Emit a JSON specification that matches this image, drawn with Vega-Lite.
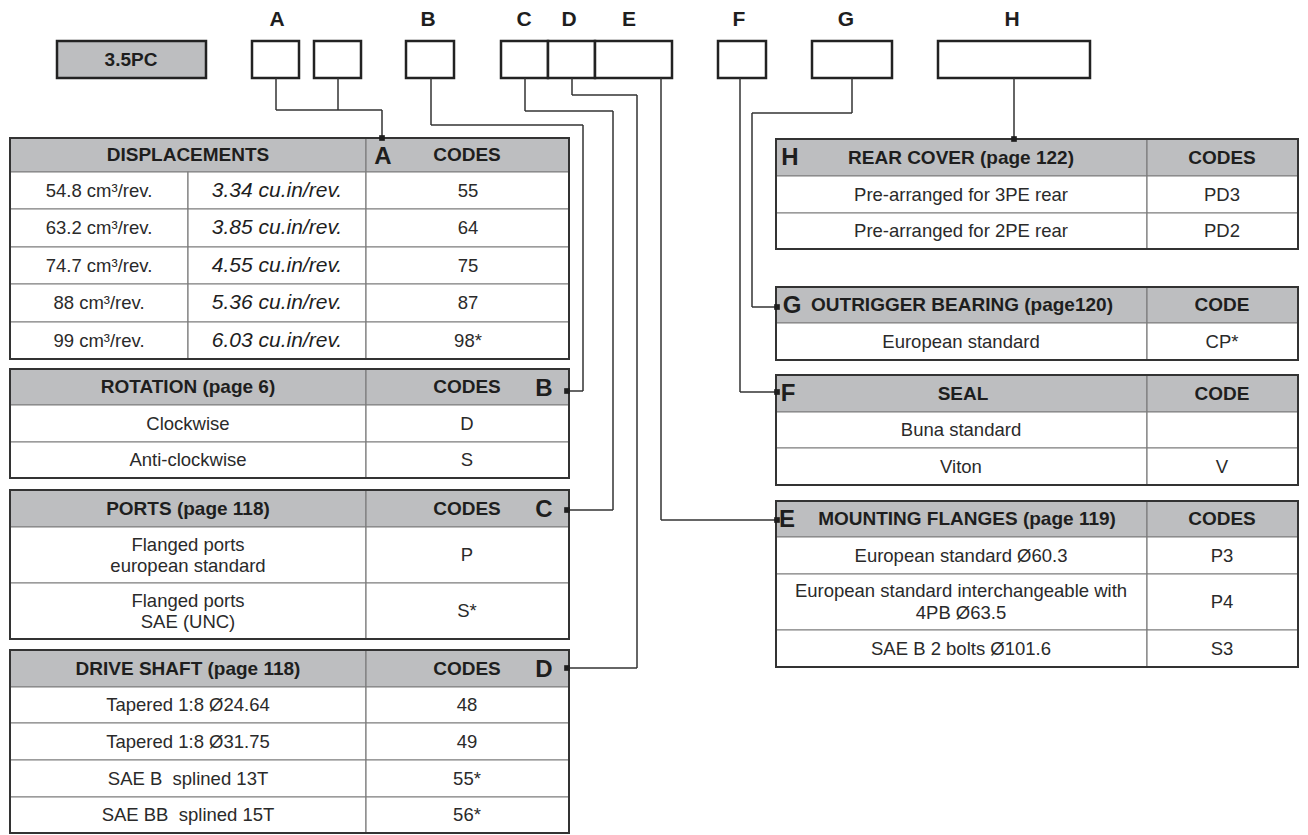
{
  "$schema": "https://vega.github.io/schema/vega-lite/v6.json",
  "width": 1308,
  "height": 835,
  "padding": 0,
  "autosize": {"type": "none"},
  "background": "#ffffff",
  "config": {"view": {"stroke": null}},
  "datasets": {
    "cells": [
      {"x":10,"x2":366,"y":138,"y2":172,"k":"h"},{"x":366,"x2":569,"y":138,"y2":172,"k":"h"},
      {"x":10,"x2":188,"y":172,"y2":209,"k":"c"},{"x":188,"x2":366,"y":172,"y2":209,"k":"c"},{"x":366,"x2":569,"y":172,"y2":209,"k":"c"},
      {"x":10,"x2":188,"y":209,"y2":247,"k":"c"},{"x":188,"x2":366,"y":209,"y2":247,"k":"c"},{"x":366,"x2":569,"y":209,"y2":247,"k":"c"},
      {"x":10,"x2":188,"y":247,"y2":284,"k":"c"},{"x":188,"x2":366,"y":247,"y2":284,"k":"c"},{"x":366,"x2":569,"y":247,"y2":284,"k":"c"},
      {"x":10,"x2":188,"y":284,"y2":322,"k":"c"},{"x":188,"x2":366,"y":284,"y2":322,"k":"c"},{"x":366,"x2":569,"y":284,"y2":322,"k":"c"},
      {"x":10,"x2":188,"y":322,"y2":359,"k":"c"},{"x":188,"x2":366,"y":322,"y2":359,"k":"c"},{"x":366,"x2":569,"y":322,"y2":359,"k":"c"},
      {"x":10,"x2":366,"y":369,"y2":405,"k":"h"},{"x":366,"x2":569,"y":369,"y2":405,"k":"h"},
      {"x":10,"x2":366,"y":405,"y2":442,"k":"c"},{"x":366,"x2":569,"y":405,"y2":442,"k":"c"},
      {"x":10,"x2":366,"y":442,"y2":478,"k":"c"},{"x":366,"x2":569,"y":442,"y2":478,"k":"c"},
      {"x":10,"x2":366,"y":490,"y2":527,"k":"h"},{"x":366,"x2":569,"y":490,"y2":527,"k":"h"},
      {"x":10,"x2":366,"y":527,"y2":583,"k":"c"},{"x":366,"x2":569,"y":527,"y2":583,"k":"c"},
      {"x":10,"x2":366,"y":583,"y2":639,"k":"c"},{"x":366,"x2":569,"y":583,"y2":639,"k":"c"},
      {"x":10,"x2":366,"y":650,"y2":687,"k":"h"},{"x":366,"x2":569,"y":650,"y2":687,"k":"h"},
      {"x":10,"x2":366,"y":687,"y2":723,"k":"c"},{"x":366,"x2":569,"y":687,"y2":723,"k":"c"},
      {"x":10,"x2":366,"y":723,"y2":760,"k":"c"},{"x":366,"x2":569,"y":723,"y2":760,"k":"c"},
      {"x":10,"x2":366,"y":760,"y2":797,"k":"c"},{"x":366,"x2":569,"y":760,"y2":797,"k":"c"},
      {"x":10,"x2":366,"y":797,"y2":833,"k":"c"},{"x":366,"x2":569,"y":797,"y2":833,"k":"c"},
      {"x":776,"x2":1147,"y":139,"y2":176,"k":"h"},{"x":1147,"x2":1298,"y":139,"y2":176,"k":"h"},
      {"x":776,"x2":1147,"y":176,"y2":213,"k":"c"},{"x":1147,"x2":1298,"y":176,"y2":213,"k":"c"},
      {"x":776,"x2":1147,"y":213,"y2":249,"k":"c"},{"x":1147,"x2":1298,"y":213,"y2":249,"k":"c"},
      {"x":776,"x2":1147,"y":287,"y2":323,"k":"h"},{"x":1147,"x2":1298,"y":287,"y2":323,"k":"h"},
      {"x":776,"x2":1147,"y":323,"y2":360,"k":"c"},{"x":1147,"x2":1298,"y":323,"y2":360,"k":"c"},
      {"x":776,"x2":1147,"y":375,"y2":412,"k":"h"},{"x":1147,"x2":1298,"y":375,"y2":412,"k":"h"},
      {"x":776,"x2":1147,"y":412,"y2":448,"k":"c"},{"x":1147,"x2":1298,"y":412,"y2":448,"k":"c"},
      {"x":776,"x2":1147,"y":448,"y2":485,"k":"c"},{"x":1147,"x2":1298,"y":448,"y2":485,"k":"c"},
      {"x":776,"x2":1147,"y":501,"y2":537,"k":"h"},{"x":1147,"x2":1298,"y":501,"y2":537,"k":"h"},
      {"x":776,"x2":1147,"y":537,"y2":574,"k":"c"},{"x":1147,"x2":1298,"y":537,"y2":574,"k":"c"},
      {"x":776,"x2":1147,"y":574,"y2":630,"k":"c"},{"x":1147,"x2":1298,"y":574,"y2":630,"k":"c"},
      {"x":776,"x2":1147,"y":630,"y2":667,"k":"c"},{"x":1147,"x2":1298,"y":630,"y2":667,"k":"c"}
    ],
    "frames": [
      {"x":10,"x2":569,"y":138,"y2":359},{"x":10,"x2":569,"y":369,"y2":478},
      {"x":10,"x2":569,"y":490,"y2":639},{"x":10,"x2":569,"y":650,"y2":833},
      {"x":776,"x2":1298,"y":139,"y2":249},{"x":776,"x2":1298,"y":287,"y2":360},
      {"x":776,"x2":1298,"y":375,"y2":485},{"x":776,"x2":1298,"y":501,"y2":667}
    ],
    "boxes": [
      {"x":57,"x2":206,"y":41,"y2":78,"k":"g"},
      {"x":252,"x2":299,"y":41,"y2":78,"k":"w"},{"x":314,"x2":361,"y":41,"y2":78,"k":"w"},
      {"x":406,"x2":454,"y":41,"y2":78,"k":"w"},
      {"x":501,"x2":548,"y":41,"y2":78,"k":"w"},{"x":548,"x2":595,"y":41,"y2":78,"k":"w"},{"x":595,"x2":672,"y":41,"y2":78,"k":"w"},
      {"x":718,"x2":766,"y":41,"y2":78,"k":"w"},{"x":812,"x2":892,"y":41,"y2":78,"k":"w"},{"x":938,"x2":1090,"y":41,"y2":78,"k":"w"}
    ],
    "links": [
      {"x":276,"y":78,"x2":276,"y2":110},{"x":338,"y":78,"x2":338,"y2":110},{"x":276,"y":110,"x2":382,"y2":110},{"x":382,"y":110,"x2":382,"y2":138},
      {"x":431,"y":78,"x2":431,"y2":125},{"x":431,"y":125,"x2":583,"y2":125},{"x":583,"y":125,"x2":583,"y2":391},{"x":583,"y":391,"x2":569,"y2":391},
      {"x":525,"y":78,"x2":525,"y2":111},{"x":525,"y":111,"x2":613,"y2":111},{"x":613,"y":111,"x2":613,"y2":510},{"x":613,"y":510,"x2":569,"y2":510},
      {"x":572,"y":78,"x2":572,"y2":95},{"x":572,"y":95,"x2":637,"y2":95},{"x":637,"y":95,"x2":637,"y2":668},{"x":637,"y":668,"x2":569,"y2":668},
      {"x":661,"y":78,"x2":661,"y2":520},{"x":661,"y":520,"x2":776,"y2":520},
      {"x":740,"y":78,"x2":740,"y2":392},{"x":740,"y":392,"x2":776,"y2":392},
      {"x":852,"y":78,"x2":852,"y2":113},{"x":852,"y":113,"x2":752,"y2":113},{"x":752,"y":113,"x2":752,"y2":307},{"x":752,"y":307,"x2":776,"y2":307},
      {"x":1014,"y":78,"x2":1014,"y2":139}
    ],
    "dots": [
      {"x":382,"y":138},{"x":567,"y":391},{"x":567,"y":510},{"x":567,"y":668},
      {"x":777,"y":520},{"x":777,"y":392},{"x":777,"y":307},{"x":1014,"y":139}
    ],
    "texts": [
      {"x":277,"y":20,"t":"A","k":"T"},{"x":428,"y":20,"t":"B","k":"T"},{"x":524,"y":20,"t":"C","k":"T"},{"x":569,"y":20,"t":"D","k":"T"},
      {"x":629,"y":20,"t":"E","k":"T"},{"x":739,"y":20,"t":"F","k":"T"},{"x":846,"y":20,"t":"G","k":"T"},{"x":1012,"y":20,"t":"H","k":"T"},
      {"x":131,"y":60,"t":"3.5PC","k":"P"},
      {"x":188,"y":155,"t":"DISPLACEMENTS","k":"hb"},{"x":383,"y":157,"t":"A","k":"L"},{"x":467,"y":155,"t":"CODES","k":"hb"},
      {"x":99,"y":190.5,"t":"54.8 cm³/rev.","k":"b"},{"x":277,"y":190.5,"t":"3.34 cu.in/rev.","k":"i"},{"x":468,"y":190.5,"t":"55","k":"b"},
      {"x":99,"y":228,"t":"63.2 cm³/rev.","k":"b"},{"x":277,"y":228,"t":"3.85 cu.in/rev.","k":"i"},{"x":468,"y":228,"t":"64","k":"b"},
      {"x":99,"y":265.5,"t":"74.7 cm³/rev.","k":"b"},{"x":277,"y":265.5,"t":"4.55 cu.in/rev.","k":"i"},{"x":468,"y":265.5,"t":"75","k":"b"},
      {"x":99,"y":303,"t":"88 cm³/rev.","k":"b"},{"x":277,"y":303,"t":"5.36 cu.in/rev.","k":"i"},{"x":468,"y":303,"t":"87","k":"b"},
      {"x":99,"y":340.5,"t":"99 cm³/rev.","k":"b"},{"x":277,"y":340.5,"t":"6.03 cu.in/rev.","k":"i"},{"x":468,"y":340.5,"t":"98*","k":"b"},
      {"x":188,"y":387,"t":"ROTATION (page 6)","k":"hb"},{"x":467,"y":387,"t":"CODES","k":"hb"},{"x":544,"y":389,"t":"B","k":"L"},
      {"x":188,"y":423.5,"t":"Clockwise","k":"b"},{"x":467,"y":423.5,"t":"D","k":"b"},
      {"x":188,"y":460,"t":"Anti-clockwise","k":"b"},{"x":467,"y":460,"t":"S","k":"b"},
      {"x":188,"y":508.5,"t":"PORTS (page 118)","k":"hb"},{"x":467,"y":508.5,"t":"CODES","k":"hb"},{"x":544,"y":510,"t":"C","k":"L"},
      {"x":188,"y":545,"t":"Flanged ports","k":"b"},{"x":188,"y":566,"t":"european standard","k":"b"},{"x":467,"y":555,"t":"P","k":"b"},
      {"x":188,"y":601,"t":"Flanged ports","k":"b"},{"x":188,"y":622,"t":"SAE (UNC)","k":"b"},{"x":467,"y":611,"t":"S*","k":"b"},
      {"x":188,"y":668.5,"t":"DRIVE SHAFT (page 118)","k":"hb"},{"x":467,"y":668.5,"t":"CODES","k":"hb"},{"x":544,"y":670,"t":"D","k":"L"},
      {"x":188,"y":705,"t":"Tapered 1:8 Ø24.64","k":"b"},{"x":467,"y":705,"t":"48","k":"b"},
      {"x":188,"y":741.5,"t":"Tapered 1:8 Ø31.75","k":"b"},{"x":467,"y":741.5,"t":"49","k":"b"},
      {"x":188,"y":778.5,"t":"SAE B\u00a0 splined 13T","k":"b"},{"x":467,"y":778.5,"t":"55*","k":"b"},
      {"x":188,"y":815,"t":"SAE BB\u00a0 splined 15T","k":"b"},{"x":467,"y":815,"t":"56*","k":"b"},
      {"x":790,"y":158,"t":"H","k":"L"},{"x":961,"y":157.5,"t":"REAR COVER (page 122)","k":"hb"},{"x":1222,"y":157.5,"t":"CODES","k":"hb"},
      {"x":961,"y":194.5,"t":"Pre-arranged for 3PE rear","k":"b"},{"x":1222,"y":194.5,"t":"PD3","k":"b"},
      {"x":961,"y":231,"t":"Pre-arranged for 2PE rear","k":"b"},{"x":1222,"y":231,"t":"PD2","k":"b"},
      {"x":792,"y":306,"t":"G","k":"L"},{"x":962,"y":305,"t":"OUTRIGGER BEARING (page120)","k":"hb"},{"x":1222,"y":305,"t":"CODE","k":"hb"},
      {"x":961,"y":341.5,"t":"European standard","k":"b"},{"x":1222,"y":341.5,"t":"CP*","k":"b"},
      {"x":788,"y":394,"t":"F","k":"L"},{"x":963,"y":393.5,"t":"SEAL","k":"hb"},{"x":1222,"y":393.5,"t":"CODE","k":"hb"},
      {"x":961,"y":430,"t":"Buna standard","k":"b"},
      {"x":961,"y":466.5,"t":"Viton","k":"b"},{"x":1222,"y":466.5,"t":"V","k":"b"},
      {"x":787,"y":520,"t":"E","k":"L"},{"x":967,"y":519,"t":"MOUNTING FLANGES (page 119)","k":"hb"},{"x":1222,"y":519,"t":"CODES","k":"hb"},
      {"x":961,"y":555.5,"t":"European standard Ø60.3","k":"b"},{"x":1222,"y":555.5,"t":"P3","k":"b"},
      {"x":961,"y":591,"t":"European standard interchangeable with","k":"b"},{"x":961,"y":613,"t":"4PB Ø63.5","k":"b"},{"x":1222,"y":602,"t":"P4","k":"b"},
      {"x":961,"y":648.5,"t":"SAE B 2 bolts Ø101.6","k":"b"},{"x":1222,"y":648.5,"t":"S3","k":"b"}
    ]
  },
  "encoding": {
    "x": {"field": "x", "type": "quantitative", "axis": null, "scale": {"domain": [0, 1308], "nice": false, "zero": false}},
    "y": {"field": "y", "type": "quantitative", "axis": null, "scale": {"domain": [0, 835], "nice": false, "zero": false, "reverse": true}}
  },
  "layer": [
    {
      "data": {"name": "cells"},
      "mark": {"type": "rect", "stroke": "#7d7d7d", "strokeWidth": 1.2},
      "encoding": {
        "x2": {"field": "x2"}, "y2": {"field": "y2"},
        "fill": {"field": "k", "type": "nominal", "legend": null, "scale": {"domain": ["h", "c"], "range": ["#bdbec0", "#ffffff"]}}
      }
    },
    {
      "data": {"name": "frames"},
      "mark": {"type": "rect", "fill": null, "fillOpacity": 0, "stroke": "#333333", "strokeWidth": 2},
      "encoding": {"x2": {"field": "x2"}, "y2": {"field": "y2"}}
    },
    {
      "data": {"name": "boxes"},
      "mark": {"type": "rect", "stroke": "#222222", "strokeWidth": 2.5},
      "encoding": {
        "x2": {"field": "x2"}, "y2": {"field": "y2"},
        "fill": {"field": "k", "type": "nominal", "legend": null, "scale": {"domain": ["g", "w"], "range": ["#bdbec0", "#ffffff"]}}
      }
    },
    {
      "data": {"name": "links"},
      "mark": {"type": "rule", "stroke": "#333333", "strokeWidth": 1.5},
      "encoding": {"x2": {"field": "x2"}, "y2": {"field": "y2"}}
    },
    {
      "data": {"name": "dots"},
      "mark": {"type": "point", "shape": "square", "filled": true, "size": 32, "color": "#1e1e1e", "opacity": 1},
      "encoding": {}
    },
    {
      "data": {"name": "texts"},
      "transform": [{"filter": "datum.k === 'T'"}],
      "mark": {"type": "text", "font": "Liberation Sans", "fontWeight": "bold", "fontSize": 21, "align": "center", "baseline": "middle", "color": "#1e1e1e"},
      "encoding": {"text": {"field": "t"}}
    },
    {
      "data": {"name": "texts"},
      "transform": [{"filter": "datum.k === 'P'"}],
      "mark": {"type": "text", "font": "Liberation Sans", "fontWeight": "bold", "fontSize": 19, "align": "center", "baseline": "middle", "color": "#1e1e1e"},
      "encoding": {"text": {"field": "t"}}
    },
    {
      "data": {"name": "texts"},
      "transform": [{"filter": "datum.k === 'hb'"}],
      "mark": {"type": "text", "font": "Liberation Sans", "fontWeight": "bold", "fontSize": 19, "align": "center", "baseline": "middle", "color": "#1e1e1e"},
      "encoding": {"text": {"field": "t"}}
    },
    {
      "data": {"name": "texts"},
      "transform": [{"filter": "datum.k === 'L'"}],
      "mark": {"type": "text", "font": "Liberation Sans", "fontWeight": "bold", "fontSize": 24, "align": "center", "baseline": "middle", "color": "#1e1e1e"},
      "encoding": {"text": {"field": "t"}}
    },
    {
      "data": {"name": "texts"},
      "transform": [{"filter": "datum.k === 'b'"}],
      "mark": {"type": "text", "font": "Liberation Sans", "fontSize": 18.5, "align": "center", "baseline": "middle", "color": "#2a2a2a"},
      "encoding": {"text": {"field": "t"}}
    },
    {
      "data": {"name": "texts"},
      "transform": [{"filter": "datum.k === 'i'"}],
      "mark": {"type": "text", "font": "Liberation Sans", "fontStyle": "italic", "fontSize": 21, "align": "center", "baseline": "middle", "color": "#1e1e1e"},
      "encoding": {"text": {"field": "t"}}
    }
  ]
}
